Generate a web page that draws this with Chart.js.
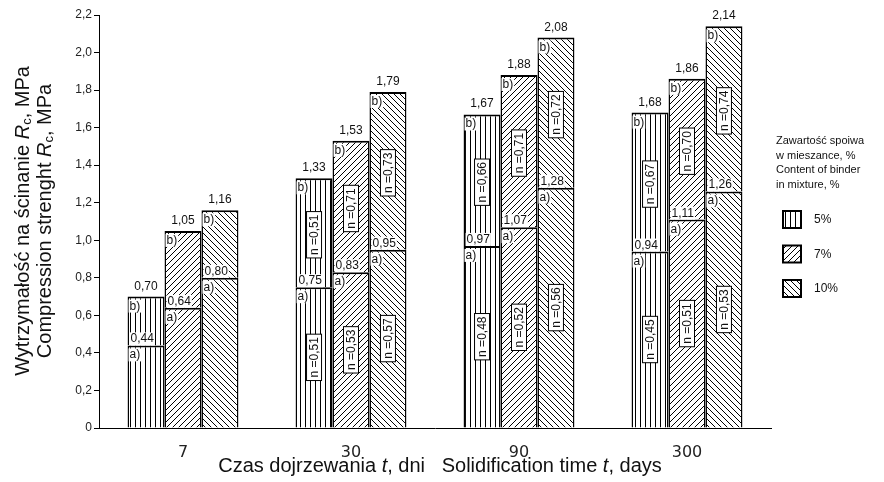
<!DOCTYPE html>
<html>
<head>
<meta charset="utf-8">
<script src="https://cdn.jsdelivr.net/npm/chart.js@4.4.0/dist/chart.umd.min.js"></script>
<style>
  body { margin: 0; background: #fff; }
  canvas { display: block; }
</style>
</head>
<body>
<canvas id="myChart" width="884" height="482"></canvas>
<script>
const days = ['7', '30', '90', '300'];
const binder = ['5%', '7%', '10%'];

// a) stage and b) stage strength, MPa
const stageA5 = [0.44, 0.75, 0.97, 0.94];
const stageB5 = [0.70, 1.33, 1.67, 1.68];
const stageA7 = [0.64, 0.83, 1.07, 1.11];
const stageB7 = [1.05, 1.53, 1.88, 1.86];
const stageA10 = [0.80, 0.95, 1.28, 1.26];
const stageB10 = [1.16, 1.79, 2.08, 2.14];

// n values written in the boxes
const nA5 = [null, 0.51, 0.48, 0.45];
const nB5 = [null, 0.51, 0.66, 0.67];
const nA7 = [null, 0.53, 0.52, 0.51];
const nB7 = [null, 0.71, 0.71, 0.70];
const nA10 = [null, 0.57, 0.56, 0.53];
const nB10 = [null, 0.73, 0.72, 0.74];

const yTicks = ['0', '0,2', '0,4', '0,6', '0,8', '1,0', '1,2', '1,4', '1,6', '1,8', '2,0', '2,2'];

const lowers = [stageA5, stageA7, stageA10];
const uppers = [stageB5, stageB7, stageB10];
const nLower = [nA5, nA7, nA10];
const nUpper = [nB5, nB7, nB10];

const FONT = '"Liberation Sans", Arial, sans-serif';

function makePattern(kind) {
    const c = document.createElement('canvas');
    const s = kind === 'v' ? 5 : 6;
    c.width = s; c.height = s;
    const g = c.getContext('2d');
    g.fillStyle = '#fff';
    g.fillRect(0, 0, s, s);
    g.strokeStyle = '#000';
    g.lineWidth = 1;
    g.beginPath();
    if (kind === 'v') {
        g.moveTo(0.5, 0); g.lineTo(0.5, s);
    } else if (kind === 'f') {
        g.moveTo(-1, 1); g.lineTo(1, -1);
        g.moveTo(0, s); g.lineTo(s, 0);
        g.moveTo(s - 1, s + 1); g.lineTo(s + 1, s - 1);
    } else {
        g.moveTo(-1, s - 1); g.lineTo(1, s + 1);
        g.moveTo(0, 0); g.lineTo(s, s);
        g.moveTo(s - 1, -1); g.lineTo(s + 1, 1);
    }
    g.stroke();
    return g.createPattern(c, 'repeat');
}

const patterns = [makePattern('v'), makePattern('f'), makePattern('b')];

const datasets = [];
binder.forEach((name, k) => {
    const common = {
        stack: 's' + k,
        backgroundColor: patterns[k],
        borderColor: '#000',
        borderWidth: { top: 2, left: 1.5, right: 1.5, bottom: 0 },
        borderSkipped: 'bottom',
        barPercentage: 1,
        categoryPercentage: 0.66
    };
    datasets.push(Object.assign({ label: name + ' a)', data: lowers[k] }, common));
    datasets.push(Object.assign({ label: name + ' b)', data: lowers[k].map((v, i) => [v, uppers[k][i]]) }, common));
});

const fmt = v => v.toFixed(2).replace('.', ',');

function boxedText(ctx, text, x, y) {
    // x = left, y = alphabetic baseline
    const w = ctx.measureText(text).width;
    ctx.fillStyle = '#fff';
    ctx.fillRect(x - 1, y - 10, w + 2, 13);
    ctx.fillStyle = '#111';
    ctx.fillText(text, x, y);
}

function nBox(ctx, value, cx, cy) {
    const text = 'n =' + value.toFixed(2).replace('.', ',');
    ctx.save();
    ctx.translate(cx, cy);
    ctx.rotate(-Math.PI / 2);
    const w = ctx.measureText(text).width;
    ctx.fillStyle = '#fff';
    ctx.fillRect(-w / 2 - 3, -7.5, w + 6, 15);
    ctx.strokeStyle = '#000';
    ctx.lineWidth = 1;
    ctx.strokeRect(-w / 2 - 3, -7.5, w + 6, 15);
    ctx.fillStyle = '#111';
    ctx.textAlign = 'center';
    ctx.textBaseline = 'middle';
    ctx.fillText(text, 0, 1);
    ctx.restore();
}

const barLabels = {
    id: 'barLabels',
    afterDatasetsDraw(chart) {
        const ctx = chart.ctx;
        ctx.save();
        ctx.font = '12px ' + FONT;
        binder.forEach((name, k) => {
            const metaA = chart.getDatasetMeta(k * 2);
            const metaB = chart.getDatasetMeta(k * 2 + 1);
            days.forEach((d, i) => {
                const barA = metaA.data[i];
                const barB = metaB.data[i];
                const left = barA.x - barA.width / 2;
                const aLine = barA.y;
                const top = barB.y;
                // top value
                ctx.fillStyle = '#111';
                ctx.textAlign = 'center';
                ctx.textBaseline = 'alphabetic';
                ctx.fillText(fmt(uppers[k][i]), barA.x, top - 7);
                ctx.textAlign = 'left';
                boxedText(ctx, 'b)', left + 2, top + 13);
                boxedText(ctx, fmt(lowers[k][i]), left + 3, aLine - 3);
                boxedText(ctx, 'a)', left + 2, aLine + 13);
                if (nLower[k][i] !== null) {
                    nBox(ctx, nLower[k][i], barA.x, (aLine + barA.base) / 2);
                }
                if (nUpper[k][i] !== null) {
                    nBox(ctx, nUpper[k][i], barA.x, (top + aLine) / 2 + 2);
                }
            });
        });
        ctx.restore();
    }
};

function drawParts(ctx, parts, x, y, size) {
    // parts: [text, style] ; style: n normal, i italic, s subscript
    const fontOf = st => (st === 'i' ? 'italic ' : '') + (st === 's' ? Math.round(size * 0.65) : size) + 'px ' + FONT;
    let total = 0;
    parts.forEach(p => { ctx.font = fontOf(p[1]); total += ctx.measureText(p[0]).width; });
    let cx = x - total / 2;
    parts.forEach(p => {
        ctx.font = fontOf(p[1]);
        ctx.fillText(p[0], cx, y + (p[1] === 's' ? 4 : 0));
        cx += ctx.measureText(p[0]).width;
    });
}

const axisTitles = {
    id: 'axisTitles',
    afterDraw(chart) {
        const ctx = chart.ctx;
        ctx.save();
        ctx.fillStyle = '#111';
        ctx.textAlign = 'left';
        ctx.textBaseline = 'middle';
        drawParts(ctx, [['Czas dojrzewania ', 'n'], ['t', 'i'], [', dni   Solidification time ', 'n'], ['t', 'i'], [', days', 'n']], 440, 466, 20);
        [[23, 'Wytrzymałość na ścinanie '], [45, 'Compression strenght ']].forEach(row => {
            ctx.save();
            ctx.translate(row[0], 221);
            ctx.rotate(-Math.PI / 2);
            drawParts(ctx, [[row[1], 'n'], ['R', 'i'], ['c', 's'], [', MPa', 'n']], 0, 0, 20);
            ctx.restore();
        });
        ctx.restore();
    }
};

const legendBox = {
    id: 'legendBox',
    afterDraw(chart) {
        const ctx = chart.ctx;
        ctx.save();
        ctx.fillStyle = '#111';
        ctx.font = '11px ' + FONT;
        ctx.textAlign = 'left';
        ctx.textBaseline = 'middle';
        ['Zawartość spoiwa', 'w mieszance, %', 'Content of binder', 'in mixture, %'].forEach((t, j) => {
            ctx.fillText(t, 776, 141 + j * 14.5);
        });
        binder.forEach((name, k) => {
            const y = 219 + k * 34.5;
            ctx.fillStyle = patterns[k];
            ctx.fillRect(783, y - 8, 18, 17);
            ctx.strokeStyle = '#000';
            ctx.lineWidth = 2;
            ctx.strokeRect(783, y - 8, 18, 17);
            ctx.fillStyle = '#111';
            ctx.font = '12px ' + FONT;
            ctx.fillText(name, 814, y + 1);
        });
        ctx.restore();
    }
};

new Chart(document.getElementById('myChart'), {
    type: 'bar',
    data: { labels: days, datasets: datasets },
    options: {
        responsive: false,
        animation: false,
        layout: { padding: { left: 0, right: 113, top: 15, bottom: 0 } },
        plugins: {
            legend: { display: false },
            tooltip: { enabled: false },
            title: { display: false }
        },
        scales: {
            x: {
                afterFit(scale) { scale.height = 54; },
                grid: { display: false },
                border: { display: true, color: '#000', width: 1 },
                ticks: { color: '#222', padding: 7, font: { family: '"DejaVu Sans", sans-serif', size: 16 } }
            },
            y: {
                stacked: false,
                min: 0,
                max: 2.2,
                afterFit(scale) { scale.width = 99; },
                grid: { drawOnChartArea: false, drawTicks: true, tickLength: 5, color: '#000' },
                border: { display: true, color: '#000', width: 1 },
                ticks: {
                    stepSize: 0.2,
                    padding: 2,
                    color: '#222',
                    font: { family: FONT, size: 12 },
                    callback: (v, i) => yTicks[i]
                }
            }
        }
    },
    plugins: [barLabels, axisTitles, legendBox]
});
</script>
</body>
</html>
